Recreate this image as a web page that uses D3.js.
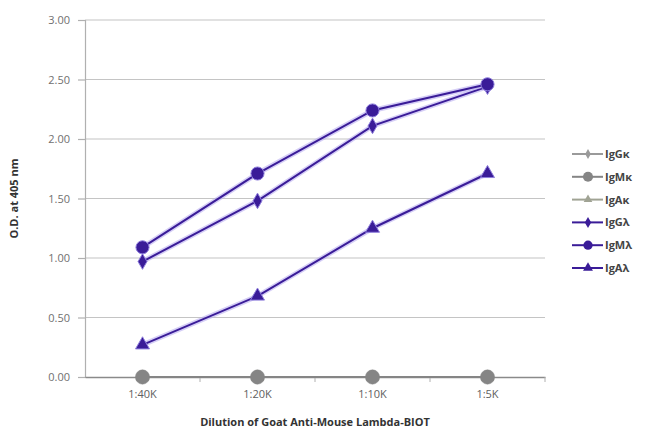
<!DOCTYPE html>
<html><head><meta charset="utf-8">
<script src="https://cdn.jsdelivr.net/npm/d3@7"></script>
<style>body{margin:0;background:#fff}svg{display:block}</style>
</head><body>
<svg id="c" width="649" height="436"></svg>
<script>
const categories = ["1:40K","1:20K","1:10K","1:5K"];
const seriesNames = ["IgG\u03ba","IgM\u03ba","IgA\u03ba","IgG\u03bb","IgM\u03bb","IgA\u03bb"];
const IgGk = [0.00,0.00,0.00,0.00];
const IgMk = [0.00,0.00,0.00,0.00];
const IgAk = [0.00,0.00,0.00,0.00];
const IgGl = [0.97,1.48,2.11,2.44];
const IgMl = [1.09,1.71,2.24,2.46];
const IgAl = [0.27,0.68,1.25,1.71];
const yTicks = [0,0.5,1,1.5,2,2.5,3];

const seriesValues = [IgGk,IgMk,IgAk,IgGl,IgMl,IgAl];
const colors = ["#9a9a9a","#858585","#a0a394","#3a1c98","#3a1c98","#3a1c98"];
const shapes = [d3.symbolDiamond,d3.symbolCircle,d3.symbolTriangle,d3.symbolDiamond,d3.symbolCircle,d3.symbolTriangle];
const sizes = [55,160,65,70,135,85];

const svg = d3.select("#c");
const L=85,R=545,T=20,B=377;
const x = d3.scaleBand().domain(categories).range([L,R]);
const y = d3.scaleLinear().domain([0,3]).range([B,T]);

svg.append("g").selectAll("line").data(yTicks.filter(d=>d>0)).join("line")
  .attr("x1",L).attr("x2",R).attr("y1",d=>y(d)).attr("y2",d=>y(d))
  .attr("stroke","#c4c4c4").attr("stroke-width",1.2);

const ya = svg.append("g").attr("transform",`translate(${L},0)`)
  .call(d3.axisLeft(y).tickValues(yTicks).tickFormat(d3.format(".2f")).tickSize(7).tickPadding(8));
ya.select(".domain").attr("stroke","#b0b0b0").attr("stroke-width",1.2);
ya.selectAll(".tick line").attr("stroke","#b0b0b0").attr("stroke-width",1.2);
ya.selectAll("text").attr("fill","#707070").attr("font-family","Open Sans").attr("font-size",11);

const xa = svg.append("g").attr("transform",`translate(0,${B})`)
  .call(d3.axisBottom(x).tickSize(0).tickPadding(13));
xa.select(".domain").attr("stroke","#8a8a8a").attr("stroke-width",1.5);
xa.selectAll("text").attr("fill","#606060").attr("font-family","Open Sans").attr("font-size",11);
xa.append("g").selectAll("line").data(categories).join("line")
  .attr("x1",d=>x(d)+x.bandwidth()).attr("x2",d=>x(d)+x.bandwidth())
  .attr("y1",0).attr("y2",5).attr("stroke","#b0b0b0");

const cx = d=>x(d)+x.bandwidth()/2;
const line = d3.line().x((v,i)=>cx(categories[i])).y(v=>y(v));

const order = [3,4,5,0,2,1];
order.forEach(si=>{
  const g = svg.append("g");
  const purple = si>=3;
  if(purple){
    g.append("path").attr("d",line(seriesValues[si])).attr("fill","none")
      .attr("stroke","#b9aef0").attr("stroke-width",5).attr("opacity",0.6);
  }
  g.append("path").attr("d",line(seriesValues[si])).attr("fill","none")
    .attr("stroke",colors[si]).attr("stroke-width",2);
  g.selectAll("path.m").data(seriesValues[si]).join("path").attr("class","m")
    .attr("transform",(v,i)=>`translate(${cx(categories[i])},${y(v)})`)
    .attr("d",d3.symbol().type(shapes[si]).size(sizes[si]))
    .attr("fill",colors[si]).attr("stroke",purple?"#8f7fdc":colors[si]).attr("stroke-width",purple?1:0.5);
});

const lg = svg.append("g");
seriesNames.forEach((n,i)=>{
  const yy = 154 + i*22.8;
  lg.append("line").attr("x1",572).attr("x2",603).attr("y1",yy).attr("y2",yy)
    .attr("stroke",colors[i]).attr("stroke-width",2);
  lg.append("path").attr("transform",`translate(588,${yy})`)
    .attr("d",d3.symbol().type(shapes[i]).size(sizes[i]*0.5)).attr("fill",colors[i]);
  lg.append("text").attr("x",605).attr("y",yy+4).text(n)
    .attr("font-family","Open Sans").attr("font-weight","bold").attr("font-size",11)
    .attr("fill","#444");
});

svg.append("text").attr("transform",`translate(18,${(T+B)/2}) rotate(-90)`)
  .attr("text-anchor","middle").text("O.D. at 405 nm")
  .attr("font-family","Open Sans").attr("font-weight","bold").attr("font-size",11).attr("fill","#333");
svg.append("text").attr("x",(L+R)/2).attr("y",426).attr("text-anchor","middle")
  .text("Dilution of Goat Anti-Mouse Lambda-BIOT")
  .attr("font-family","Open Sans").attr("font-weight","bold").attr("font-size",11).attr("fill","#333");
</script>
</body></html>
